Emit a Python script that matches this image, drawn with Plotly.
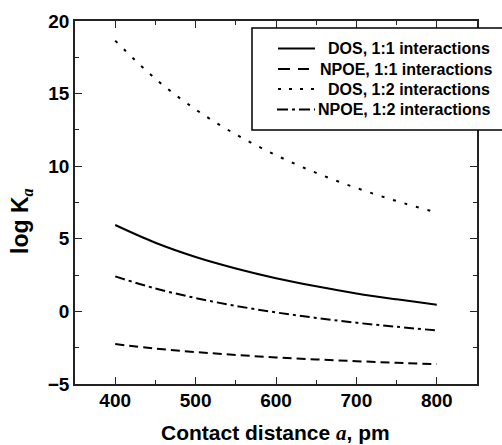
import plotly.graph_objects as go

# Data
a_pm = [400, 450, 500, 550, 600, 650, 700, 750, 800]
dos_11 = [5.95, 4.73, 3.75, 2.96, 2.29, 1.73, 1.24, 0.83, 0.46]
npoe_11 = [-2.25, -2.56, -2.80, -3.00, -3.17, -3.31, -3.43, -3.54, -3.63]
dos_12 = [18.65, 16.02, 13.91, 12.19, 10.76, 9.54, 8.50, 7.60, 6.81]
npoe_12 = [2.41, 1.58, 0.92, 0.38, -0.07, -0.45, -0.78, -1.06, -1.31]

series_names = ["DOS, 1:1 interactions", "NPOE, 1:1 interactions",
                "DOS, 1:2 interactions", "NPOE, 1:2 interactions"]
series_vals = [dos_11, npoe_11, dos_12, npoe_12]
dashes = ["solid", "9px,5px", "3px,9px", "10px,4px,3px,4px"]
legend_dashes = ["solid", "12px,8px", "3px,8px", "11px,4px,3px,4px"]

FONT = "Arial, Liberation Sans, Helvetica, sans-serif"
SERIF = "Times New Roman, Liberation Serif, serif"

fig = go.Figure()
for name, vals, d in zip(series_names, series_vals, dashes):
    fig.add_trace(go.Scatter(x=a_pm, y=vals, mode="lines", name=name, showlegend=False,
                             line=dict(color="black", width=2, dash=d, shape="spline")))

W, H = 502, 445
L, R, T, B = 75, 25, 21, 61
pw = W - L - R
ph = H - T - B


def px_x(x):
    return (x - L) / pw


def px_y(y):
    return (H - B - y) / ph


# legend box
fig.add_shape(type="rect", xref="paper", yref="paper",
              x0=px_x(252), x1=px_x(504), y0=px_y(130), y1=px_y(28),
              line=dict(color="black", width=1.5), fillcolor="white", layer="above")

row_y = [48.5, 69, 89, 109.5]
line_x = [(278, 315), (278, 309), (278, 317), (277, 315)]
text_x = [326, 318, 326, 316]
for name, ld, ry, (lx0, lx1), tx in zip(series_names, legend_dashes, row_y, line_x, text_x):
    fig.add_shape(type="line", xref="paper", yref="paper",
                  x0=px_x(lx0), x1=px_x(lx1), y0=px_y(ry), y1=px_y(ry),
                  line=dict(color="black", width=2, dash=ld), layer="above")
    fig.add_annotation(xref="paper", yref="paper", x=px_x(tx), y=px_y(ry),
                       xanchor="left", yanchor="middle", showarrow=False,
                       text="<b>%s</b>" % name,
                       font=dict(family=FONT, size=16, color="black"))

# axis titles (placed as in the reference)
fig.add_annotation(xref="paper", yref="paper", x=px_x(21), y=px_y(221),
                   xanchor="center", yanchor="middle", showarrow=False, textangle=-90,
                   text="<b>log K<sub><i style='font-family:%s'>a</i></sub></b>" % SERIF,
                   font=dict(family=FONT, size=23, color="black"))
fig.add_annotation(xref="paper", yref="paper", x=px_x(275), y=px_y(433),
                   xanchor="center", yanchor="middle", showarrow=False,
                   text="<b>Contact distance <i style='font-family:%s'>a</i>, pm</b>" % SERIF,
                   font=dict(family=FONT, size=21, color="black"))

axis_common = dict(
    showline=True, linecolor="#222", linewidth=1.5, mirror="ticks",
    ticks="inside", ticklen=7, tickwidth=1.3, tickcolor="#222",
    showgrid=False, zeroline=False,
    tickfont=dict(family=FONT, size=19, color="black", weight="bold"),
)

fig.update_xaxes(range=[350, 850], tickvals=[400, 500, 600, 700, 800],
                 minor=dict(ticks="inside", ticklen=4, dtick=50, tick0=350, tickcolor="#222", tickwidth=1.3),
                 ticklabelstandoff=-2,
                 **axis_common)
fig.update_yaxes(range=[-5, 20], tickvals=[-5, 0, 5, 10, 15, 20],
                 minor=dict(ticks="inside", ticklen=4, dtick=2.5, tick0=0, tickcolor="#222", tickwidth=1.3),
                 ticklabelstandoff=0,
                 **axis_common)

fig.update_layout(
    width=W, height=H,
    margin=dict(l=L, r=R, t=T, b=B, pad=0),
    paper_bgcolor="white", plot_bgcolor="white",
    showlegend=False,
)

fig.write_html("out.html")
